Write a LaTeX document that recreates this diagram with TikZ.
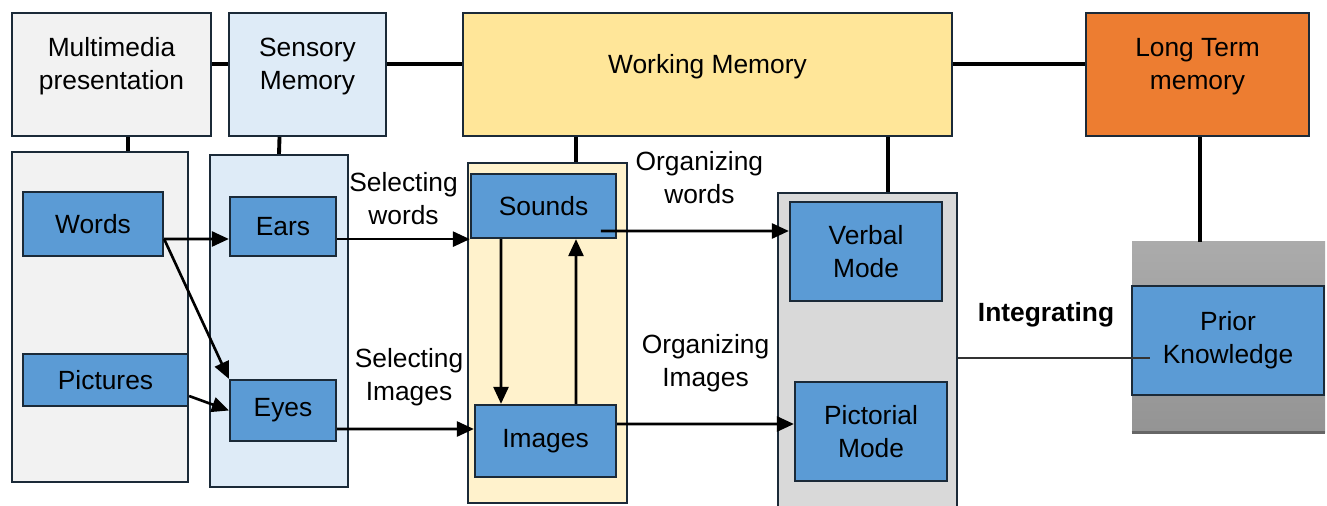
\documentclass[tikz,border=0pt]{standalone}
\usepackage{fontspec}
\setmainfont{Liberation Sans}
\usetikzlibrary{arrows.meta, fit}

\definecolor{edge}{HTML}{1B2A38}
\definecolor{mmgray}{HTML}{F2F2F2}
\definecolor{sensblue}{HTML}{DEEBF7}
\definecolor{wmyellow}{HTML}{FFE699}
\definecolor{wmpale}{HTML}{FFF2CC}
\definecolor{ltorange}{HTML}{ED7D31}
\definecolor{itemblue}{HTML}{5B9BD5}
\definecolor{colgray}{HTML}{D9D9D9}

\begin{document}
\begin{tikzpicture}[
  x=0.02cm, y=-0.02cm,
  font=\fontsize{15}{18.8}\selectfont,
  box/.style={draw=edge, line width=1.3pt, inner sep=0pt},
  toptext/.style={yshift=0.16cm, align=center},
  item/.style={box, fill=itemblue, align=center},
  link/.style={line width=2.2pt},
  signal/.style={-{Triangle[length=0.34cm,width=0.3cm]}, line width=1.5pt},
  tag/.style={align=center}
]
\useasboundingbox (0,0) rectangle (1327,506);

% Stages
\node[box, fill=mmgray, fit={(12,13) (211,136)}, label={[toptext]center:Multimedia\\presentation}] (mm) {};
\node[box, fill=sensblue, fit={(229,13) (386,136)}, label={[toptext]center:Sensory\\Memory}] (sens) {};
\node[box, fill=wmyellow, fit={(463,13) (952,136)}, label={[toptext]center:Working Memory}] (wm) {};
\node[box, fill=ltorange, fit={(1086,13) (1309,136)}, label={[toptext]center:Long Term\\memory}] (ltm) {};

\draw[link] ([yshift=0.21cm]mm.east) -- ([yshift=0.21cm]sens.west);
\draw[link] ([yshift=0.21cm]sens.east) -- ([yshift=0.21cm]wm.west);
\draw[link] ([yshift=0.21cm]wm.east) -- ([yshift=0.21cm]ltm.west);

% Columns
\node[box, fill=mmgray, fit={(12,152) (188,482)}] (mmcol) {};
\node[box, fill=sensblue, fit={(210,155) (348,487)}] (senscol) {};
\node[box, fill=wmpale, fit={(468,163) (627,503)}] (wmcol) {};
\node[box, fill=colgray, fit={(778,193) (957,520)}] (graycol) {};
\shade[top color=black!33, bottom color=black!42] (1132,242) rectangle (1325,432);
\node[inner sep=0pt, fit={(1132,242) (1325,432)}] (priorbg) {};
\draw[black!60, line width=1.6pt] (priorbg.south west) -- (priorbg.south east);

\draw[link] ([xshift=0.33cm]mm.south) -- ([xshift=0.56cm]mmcol.north);
\draw[link] ([xshift=-0.56cm]sens.south) -- (senscol.north);
\draw[link] ([xshift=-2.63cm]wm.south) -- ([xshift=0.57cm]wmcol.north);
\draw[link] ([xshift=3.61cm]wm.south) -- ([xshift=0.41cm]graycol.north);
\draw[link] ([xshift=0.05cm]ltm.south) -- ([xshift=0.05cm]ltm.south |- priorbg.north);

% Items
\node[item, minimum width=2.8cm, minimum height=1.28cm] (words) at (93,224) {Words};
\node[item, minimum width=3.3cm, minimum height=1.04cm] (pictures) at (105.5,380) {Pictures};
\node[item, minimum width=2.12cm, minimum height=1.18cm] (ears) at (283,226.5) {Ears};
\node[item, minimum width=2.12cm, minimum height=1.22cm] (eyes) at (283,410.5) {Eyes};
\node[item, minimum width=2.9cm, minimum height=1.28cm] (sounds) at (543.5,206) {Sounds};
\node[item, minimum width=2.82cm, minimum height=1.44cm] (images) at (545.5,441) {Images};
\node[item, minimum width=3.04cm, minimum height=1.98cm] (verbal) at (866,251.5) {Verbal\\Mode};
\node[item, minimum width=3.04cm, minimum height=1.98cm] (pictorial) at (871,431.5) {Pictorial\\Mode};
\node[item, minimum width=3.84cm, minimum height=2.18cm] (prior) at (1228,340.5) {Prior\\Knowledge};

% Arrows
\draw[signal] ([yshift=-0.3cm]words.east) -- ([yshift=-0.25cm]ears.west);
\draw[signal] ([yshift=-0.3cm]words.east) -- (eyes.north west);
\draw[signal] ([yshift=-0.32cm]pictures.east) -- (eyes.west);
\draw[signal] (ears.east |- sounds.south west) -- node[tag, yshift=0.82cm] {Selecting\\words} (sounds.south west);
\draw[signal] ([yshift=-0.37cm]eyes.east) -- node[tag, xshift=0.07cm, yshift=1.04cm] {Selecting\\Images} ([yshift=0.24cm]images.west);
\draw[signal] ([xshift=-0.85cm]sounds.south) -- ([xshift=-0.89cm]images.north);
\draw[signal] ([xshift=0.61cm]images.north) -- ([xshift=0.65cm]sounds.south);
\draw[signal] ([xshift=1.15cm,yshift=-0.5cm]sounds.center) -- node[tag, xshift=0.09cm, yshift=1.06cm] {Organizing\\words} ([yshift=0.41cm]verbal.west);
\draw[signal] ([yshift=0.34cm]images.east) -- node[tag, yshift=1.22cm] {Organizing\\Images} ([yshift=0.15cm]pictorial.west);

% Integrating
\coordinate (intend) at ([xshift=0.38cm,yshift=-0.35cm]prior.west);
\draw[draw=black!80, line width=0.7pt] (graycol.east |- intend) -- node[tag, font=\fontsize{15}{18.8}\selectfont\bfseries, xshift=-0.16cm, yshift=0.86cm] {Integrating} (intend);

\end{tikzpicture}
\end{document}
